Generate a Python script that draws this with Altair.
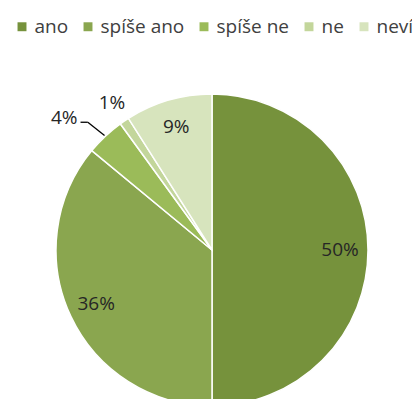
import altair as alt
import pandas as pd

categories = ["ano", "spíše ano", "spíše ne", "ne", "neví"]
values = [50, 36, 4, 1, 9]
colors = ["#76923C", "#8AA64F", "#9BBB59", "#C3D69B", "#D7E4BD"]

df = pd.DataFrame({"category": categories, "value": values, "idx": list(range(len(categories)))})

base = alt.Chart(df)

arcs = base.mark_arc(outerRadius=156, stroke="white", strokeWidth=1.5).encode(
    theta=alt.Theta("value:Q", stack=True),
    color=alt.Color(
        "category:N",
        scale=alt.Scale(domain=categories, range=colors),
        sort=categories,
        legend=alt.Legend(
            orient="none", legendX=0.5, legendY=-84, direction="horizontal", columns=5,
            symbolType="square", symbolSize=80, symbolStrokeWidth=0,
            labelFont="Open Sans", labelFontSize=19, labelColor="#404040",
            columnPadding=10, labelOffset=3, title=None, padding=0,
        ),
    ),
    order=alt.Order("idx:Q"),
)

geo = (
    base.transform_window(cum="sum(value)", sort=[alt.SortField("idx")], frame=[None, 0])
    .transform_joinaggregate(total="sum(value)")
    .transform_calculate(
        a="(datum.cum - datum.value / 2) / datum.total * 2 * PI",
        lab="datum.value + '%'",
        kind="datum.value >= 5 ? 'in' : (datum.value >= 2 ? 'leader' : 'out')",
    )
    .transform_calculate(
        r="datum.kind == 'in' ? 128 : 178",
        ex="200 + 157 * sin(datum.a)",
        ey="149 - 157 * cos(datum.a)",
    )
    .transform_calculate(
        lx="200 + datum.r * sin(datum.a)",
        ly="149 - datum.r * cos(datum.a)",
        bx="datum.ex - 16.7",
        by="datum.ey - 13.3",
    )
    .transform_calculate(cx="datum.bx - 7.3")
)

labels = geo.transform_filter("datum.kind != 'leader'").mark_text(
    font="Open Sans", fontSize=19, color="#262626", align="center", baseline="middle"
).encode(
    x=alt.X("lx:Q", scale=None), y=alt.Y("ly:Q", scale=None), text="lab:N"
)

lead = geo.transform_filter("datum.kind == 'leader'")
seg1 = lead.mark_rule(color="#000000", strokeWidth=1.3).encode(
    x=alt.X("ex:Q", scale=None), y=alt.Y("ey:Q", scale=None), x2="bx:Q", y2="by:Q"
)
seg2 = lead.mark_rule(color="#000000", strokeWidth=1.3).encode(
    x=alt.X("bx:Q", scale=None), y=alt.Y("by:Q", scale=None), x2="cx:Q", y2="by:Q"
)
lead_text = lead.transform_calculate(tx="datum.cx - 3", ty="datum.by - 4").mark_text(
    font="Open Sans", fontSize=19, color="#262626", align="right", baseline="middle"
).encode(x=alt.X("tx:Q", scale=None), y=alt.Y("ty:Q", scale=None), text="lab:N")

chart = alt.layer(arcs, labels, seg1, seg2, lead_text).properties(
    width=400, height=298,
    autosize=alt.AutoSizeParams(type="none"),
    padding={"left": 4, "top": 93, "right": 0, "bottom": 0},
).configure_view(stroke=None)

chart.save("out.html", embed_options={"renderer": "svg", "actions": False})
